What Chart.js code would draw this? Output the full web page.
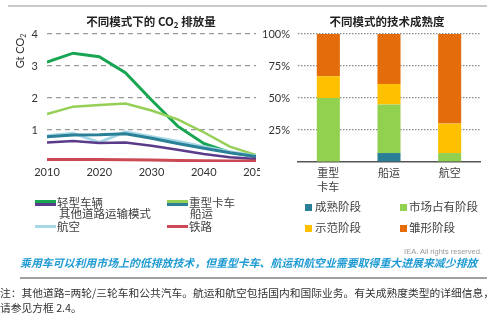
<!DOCTYPE html>
<html>
<head>
<meta charset="utf-8">
<script src="https://cdn.jsdelivr.net/npm/chart.js@4/dist/chart.umd.min.js"></script>
<style>
  body { margin: 0; width: 499px; height: 322px; background: #fff; position: relative; overflow: hidden;
         font-family: "Noto Sans CJK SC", sans-serif; color: #333; }
  .abs { position: absolute; white-space: nowrap; }
  .c { transform: translate(-50%, -50%); }
  .title { font-size: 11.5px; font-weight: bold; color: #222; }
  .title sub { font-size: 8px; vertical-align: -2px; }
  .lg { font-size: 11.5px; line-height: 14px; color: #404040; transform: translateY(-50%); }
  .sw { position: absolute; height: 3px; width: 21px; }
  .sq { position: absolute; width: 7px; height: 7px; }
  canvas { position: absolute; }
</style>
</head>
<body>
<div class="abs" style="left:8px;top:5px;width:479px;height:1.5px;background:#c8c8c8"></div>

<canvas id="emis" width="260" height="185" style="left:0;top:0"></canvas>
<canvas id="ready" width="240" height="200" style="left:250px;top:0"></canvas>

<div class="abs c title" style="left:151px;top:21px">不同模式下的 CO<sub>2</sub> 排放量</div>
<div class="abs c title" style="left:387px;top:21px">不同模式的技术成熟度</div>
<div class="abs" style="left:20px;top:51px;font-family:Lato,sans-serif;font-size:11px;color:#333;transform:translate(-50%,-50%) rotate(-90deg)">Gt CO<sub style="font-size:7px;vertical-align:-2px">2</sub></div>

<!-- line legend -->
<div id="lineLegend"></div>
<!-- bar legend -->
<div id="barLegend"></div>

<div class="abs" style="right:17px;top:251px;transform:translateY(-50%);font-family:'Liberation Sans',sans-serif;font-size:7.5px;color:#9a9a9a">IEA. All rights reserved.</div>
<div class="abs" style="left:20px;top:262px;transform:translateY(-50%);font-size:10.9px;font-weight:bold;font-style:italic;color:#1f9bd3">乘用车可以利用市场上的低排放技术，但重型卡车、航运和航空业需要取得重大进展来减少排放</div>
<div class="abs" style="left:20px;top:277px;width:467px;height:2px;background:#a0a0a0"></div>
<div class="abs" style="left:0;top:292px;transform:translateY(-50%);font-size:10.75px;color:#333">注：其他道路=两轮/三轮车和公共汽车。航运和航空包括国内和国际业务。有关成熟度类型的详细信息，</div>
<div class="abs" style="left:0;top:307px;transform:translateY(-50%);font-size:10.75px;color:#333">请参见方框 2.4。</div>

<script>
// CO2 emissions by mode, Gt CO2
const years       = [2010, 2015, 2020, 2025, 2030, 2035, 2040, 2045, 2050];
const lightDuty   = [3.12, 3.40, 3.29, 2.79, 1.94, 1.12, 0.58, 0.30, 0.17];
const heavyTrucks = [1.50, 1.73, 1.78, 1.83, 1.61, 1.33, 0.93, 0.48, 0.22];
const otherRoad   = [0.61, 0.66, 0.59, 0.61, 0.51, 0.38, 0.25, 0.15, 0.09];
const shipping    = [0.79, 0.84, 0.85, 0.88, 0.74, 0.58, 0.43, 0.29, 0.17];
const aviation    = [0.82, 0.90, 0.61, 0.94, 0.79, 0.65, 0.48, 0.32, 0.19];
const rail        = [0.08, 0.08, 0.08, 0.07, 0.06, 0.05, 0.04, 0.03, 0.03];
const emisTicks   = [1, 2, 3, 4];

// Technology readiness shares, %
const modes       = [['重型', '卡车'], '船运', '航空'];
const mature      = [0, 7, 0];
const market      = [50, 38, 7];
const demo        = [17, 16, 23];
const prototype   = [33, 39, 70];
const shareTicks  = [25, 50, 75, 100];

const tickFont = { family: 'Lato, "Liberation Sans", sans-serif', size: 11 };
const tickColor = '#333';

const series = [
  { label: '铁路',             data: rail,        color: '#cc4a55', width: 3 },
  { label: '其他道路运输模式', data: otherRoad,   color: '#5a3b8a', width: 2.5 },
  { label: '船运',             data: shipping,    color: '#2a8096', width: 3 },
  { label: '航空',             data: aviation,    color: '#a6d7e6', width: 3 },
  { label: '重型卡车',         data: heavyTrucks, color: '#95cf55', width: 2.5 },
  { label: '轻型车辆',         data: lightDuty,   color: '#17a552', width: 3 }
];

new Chart(document.getElementById('emis'), {
  type: 'line',
  data: {
    datasets: series.map(s => ({
      label: s.label,
      data: years.map((yr, i) => ({ x: yr, y: s.data[i] })),
      borderColor: s.color,
      backgroundColor: s.color,
      borderWidth: s.width,
      pointRadius: 0,
      tension: 0,
      fill: false
    }))
  },
  options: {
    responsive: false,
    animation: false,
    layout: { padding: { top: 34, left: 0, right: 4, bottom: 0 } },
    plugins: { legend: { display: false }, tooltip: { enabled: false } },
    scales: {
      x: {
        type: 'linear', min: years[0], max: years[years.length - 1],
        afterBuildTicks: s => { s.ticks = [2010, 2020, 2030, 2040, 2050].map(v => ({ value: v })); },
        grid: { display: false, drawTicks: false },
        border: { display: false },
        ticks: { font: tickFont, color: tickColor, padding: 4, maxRotation: 0, callback: v => String(v) },
        afterFit: s => { s.height = 23; s.paddingLeft = 0; s.paddingRight = 0; }
      },
      y: {
        min: 0, max: 4,
        afterBuildTicks: s => { s.ticks = [0].concat(emisTicks).map(v => ({ value: v })); },
        grid: {
          drawTicks: false,
          color: c => (c.tick && c.tick.value === 0) ? 'rgba(0,0,0,0)' : '#9a9a9a',
          lineWidth: 1.3
        },
        border: { display: false, dash: [5, 4] },
        ticks: { font: tickFont, color: tickColor, padding: 9, callback: v => v === 0 ? '' : String(v) },
        afterFit: s => { s.width = 47; }
      }
    }
  }
});

const stages = [
  { label: '成熟阶段',     data: mature,    color: '#2a7f96' },
  { label: '市场占有阶段', data: market,    color: '#92d050' },
  { label: '示范阶段',     data: demo,      color: '#ffc000' },
  { label: '雏形阶段',     data: prototype, color: '#e46c0a' }
];

new Chart(document.getElementById('ready'), {
  type: 'bar',
  data: {
    labels: modes,
    datasets: stages.map(s => ({
      label: s.label, data: s.data, backgroundColor: s.color, borderWidth: 0,
      categoryPercentage: 1, barPercentage: 0.38
    }))
  },
  options: {
    responsive: false,
    animation: false,
    layout: { padding: { top: 34, left: 0, right: 10, bottom: 0 } },
    plugins: { legend: { display: false }, tooltip: { enabled: false } },
    scales: {
      x: {
        stacked: true,
        grid: { display: false, drawTicks: false },
        border: { display: true, color: '#555', width: 1.5 },
        ticks: { font: { family: '"Noto Sans CJK SC", sans-serif', size: 11, lineHeight: 1.27 }, color: '#404040', padding: 4 },
        afterFit: s => { s.height = 38; }
      },
      y: {
        stacked: true, min: 0, max: 100,
        afterBuildTicks: s => { s.ticks = [0].concat(shareTicks).map(v => ({ value: v })); },
        grid: {
          drawTicks: false,
          color: c => (c.tick && c.tick.value === 0) ? 'rgba(0,0,0,0)' : '#8a8a8a',
          lineWidth: 1.2
        },
        border: { display: false, dash: [1.5, 1.5] },
        ticks: { font: tickFont, color: tickColor, padding: 8, callback: v => v === 0 ? '' : v + '%' },
        afterFit: s => { s.width = 48; }
      }
    }
  }
});

// Legends drawn as HTML text, colours taken from the series definitions
const byLabel = {};
series.forEach(s => byLabel[s.label] = s);
const lineItems = [
  { key: '轻型车辆',         sx: 35,  sy: 201, tx: 57,  ty: 202 },
  { key: '其他道路运输模式', sx: 35,  sy: 204, tx: 59,  ty: 213 },
  { key: '航空',             sx: 35,  sy: 226, tx: 57,  ty: 226 },
  { key: '重型卡车',         sx: 167, sy: 201, tx: 189, ty: 202 },
  { key: '船运',             sx: 167, sy: 204, tx: 190, ty: 213 },
  { key: '铁路',             sx: 167, sy: 226, tx: 189, ty: 226 }
];
const ll = document.getElementById('lineLegend');
lineItems.forEach(it => {
  const s = byLabel[it.key];
  const sw = document.createElement('div');
  sw.className = 'sw';
  sw.style.left = it.sx + 'px'; sw.style.top = (it.sy - 1.5) + 'px'; sw.style.background = s.color;
  ll.appendChild(sw);
  const t = document.createElement('div');
  t.className = 'abs lg';
  t.style.left = it.tx + 'px'; t.style.top = it.ty + 'px';
  t.textContent = s.label;
  ll.appendChild(t);
});

const barItems = [
  { i: 0, sx: 305, tx: 315, ty: 206 },
  { i: 1, sx: 400, tx: 409, ty: 206 },
  { i: 2, sx: 305, tx: 315, ty: 227 },
  { i: 3, sx: 400, tx: 409, ty: 227 }
];
const bl = document.getElementById('barLegend');
barItems.forEach(it => {
  const s = stages[it.i];
  const sq = document.createElement('div');
  sq.className = 'sq';
  sq.style.left = it.sx + 'px'; sq.style.top = (it.ty - 2) + 'px'; sq.style.background = s.color;
  bl.appendChild(sq);
  const t = document.createElement('div');
  t.className = 'abs lg';
  t.style.left = it.tx + 'px'; t.style.top = it.ty + 'px';
  t.textContent = s.label;
  bl.appendChild(t);
});
</script>
</body>
</html>
